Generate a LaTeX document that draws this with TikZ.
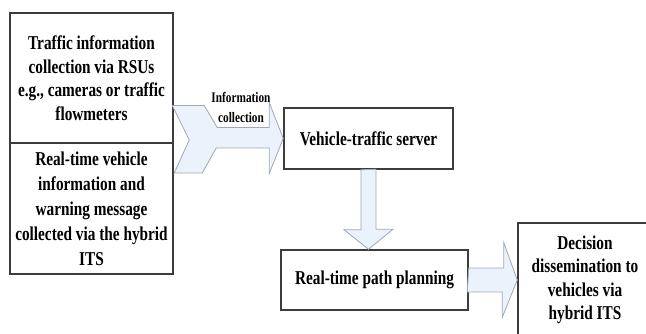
\documentclass[tikz,border=0pt]{standalone}
\usepackage{fontspec}
\setmainfont{Liberation Serif}[FakeStretch=0.78]
\usepackage{tikz}
\usetikzlibrary{calc}
\definecolor{arrfill}{RGB}{236,242,251}
\definecolor{arrline}{RGB}{160,168,182}
\definecolor{boxline}{RGB}{60,60,60}
\tikzset{
  box/.style    ={draw=boxline, line width=1.5pt, fill=white, align=center,
                  inner sep=0pt, font=\bfseries\fontsize{19.6}{23.5}\selectfont},
  blkarr/.style ={draw=arrline, fill=arrfill, line width=0.8pt,
                  line join=miter},
  lbl/.style    ={align=center, font=\bfseries\fontsize{14.5}{20.5}\selectfont},
}
\begin{document}
\begin{tikzpicture}[x=1pt, y=-1pt]
  \useasboundingbox (0,0) rectangle (646,333);
  \clip (0,0) rectangle (646,333);
  \node[box, minimum width=163, minimum height=130] (trf) at (91.5,78)
    {Traffic information\\ collection via RSUs\\ e.g., cameras or traffic\\ flowmeters};
  \node[box, minimum width=163, minimum height=131,
        font=\bfseries\fontsize{19.6}{25}\selectfont] (veh) at (91.5,208.5)
    {Real-time vehicle\\ information and\\ warning message\\ collected via the hybrid\\ ITS};
  \node[box, minimum width=169, minimum height=61] (srv) at (368.5,138.5)
    {Vehicle-traffic server};
  \node[box, minimum width=187, minimum height=60] (plan) at (374.5,280)
    {Real-time path planning};
  \node[box, minimum width=134, minimum height=114] (dec) at (585,280)
    {Decision\\ dissemination to\\ vehicles via\\ hybrid ITS};
  \draw[blkarr] (srv.west) -- ++(-14,-36) -- ++(0,25) -- ++(-52,0)
    -- ++(-13,-22) -- ++(-32,0) -- ++(17,34.5) -- ++(-15,33) -- ++(28,0)
    -- ++(14,-25) -- ++(53,0) -- ++(0,25.5) -- cycle;
  \node[lbl] (infolbl) at (241,107.5) {Information\\ collection};
  \coordinate (dtip) at (srv.south |- plan.north);
  \draw[blkarr] ($(srv.south)+(-7.5,0)$) -- ++(0,60) -- ++(-17,0) -- (dtip)
    -- ++(24.5,-20) -- ++(-17,0) -- ++(0,-60) -- cycle;
  \draw[blkarr] ($(plan.east)+(0,-12)$) -- ++(35,0) -- ++(0,-25.5) -- (dec.west)
    -- ++(-15,37.5) -- ++(0,-25.5) -- ++(-35,0) -- cycle;
\end{tikzpicture}
\end{document}
